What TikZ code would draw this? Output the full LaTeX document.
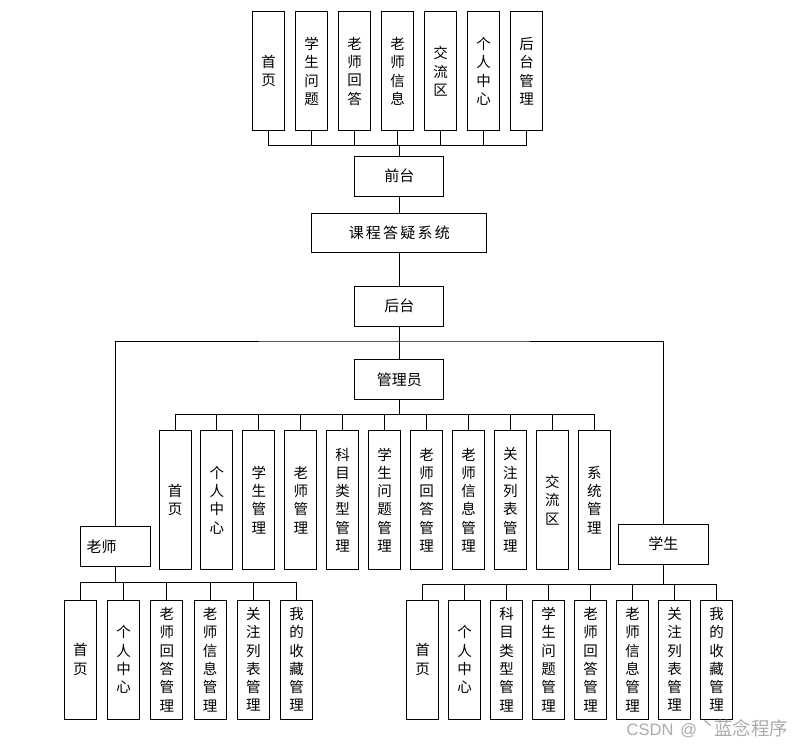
\documentclass[tikz,border=0pt]{standalone}
\usepackage{fontspec}
\newfontfamily\cjk{Noto Sans CJK SC}
\newfontfamily\lsans{Liberation Sans}
\tikzset{
  box/.style={draw=black, line width=0.9pt, inner sep=0pt, align=center,
    font=\cjk\fontsize{14.5}{18.3}\selectfont},
  vbox/.style={box, minimum width=32, minimum height=119},
  tallbox/.style={box, minimum width=32, minimum height=139},
  hbox/.style={box, minimum width=89, minimum height=40,
    font=\cjk\fontsize{15}{18}\selectfont},
  link/.style={line width=0.9pt, draw=black}
}
\newcommand\gp{\hspace{2.2pt}}
\begin{document}
\begin{tikzpicture}[x=1pt,y=-1pt]
\useasboundingbox[fill=white] (0,0) rectangle (807,748);
% top row (front end)
\foreach \t [count=\i] in {首\\页, 学\\生\\问\\题, 老\\师\\回\\答, 老\\师\\信\\息, 交\\流\\区, 个\\人\\中\\心, 后\\台\\管\\理}
  \node[vbox] (f\i) at ({268.7+43*(\i-1)},71.3) {\t};
\node[hbox] (qt) at (399.3,176) {前台};
\node[hbox, minimum width=175, minimum height=39] (sys) at (399.3,233) {课\gp 程\gp 答\gp 疑\gp 系\gp 统};
\node[hbox] (ht) at (399.3,306) {后台};
\node[hbox] (gly) at (399.3,379.3) {管理员};
\node[hbox, minimum width=70, text width=58, align=left, inner xsep=6] (ls) at (115.5,546.7) {老师};
\node[hbox, minimum width=90] (xs) at (663.3,544.2) {学生};
% admin children
\foreach \t [count=\i] in {首\\页, 个\\人\\中\\心, 学\\生\\管\\理, 老\\师\\管\\理, 科\\目\\类\\型\\管\\理, 学\\生\\问\\题\\管\\理, 老\\师\\回\\答\\管\\理, 老\\师\\信\\息\\管\\理, 关\\注\\列\\表\\管\\理, 交\\流\\区, 系\\统\\管\\理}
  \node[tallbox] (a\i) at ({175+41.93*(\i-1)},500) {\t};
% teacher children
\foreach \t [count=\i] in {首\\页, 个\\人\\中\\心, 老\\师\\回\\答\\管\\理, 老\\师\\信\\息\\管\\理, 关\\注\\列\\表\\管\\理, 我\\的\\收\\藏\\管\\理}
  \node[vbox] (t\i) at ({80.3+43.28*(\i-1)},659.5) {\t};
% student children
\foreach \t [count=\i] in {首\\页, 个\\人\\中\\心, 科\\目\\类\\型\\管\\理, 学\\生\\问\\题\\管\\理, 老\\师\\回\\答\\管\\理, 老\\师\\信\\息\\管\\理, 关\\注\\列\\表\\管\\理, 我\\的\\收\\藏\\管\\理}
  \node[vbox] (s\i) at ({422.7+42*(\i-1)},659.5) {\t};
% connectors
\foreach \i in {1,...,7}
  \draw[link] (qt.north) -- ++(0,-10) -| (f\i.south);
\draw[link] (qt.south) -- (sys.north);
\draw[link] (sys.south) -- (ht.north);
\draw[link] (ht.south) -- (gly.north);
\coordinate (split) at (399.3,341);
\draw[link] (ls.north) |- (split) -| (xs.north);
\foreach \i in {1,...,11}
  \draw[link] (gly.south) -- ++(0,15) -| (a\i.north);
\foreach \i in {1,...,6}
  \draw[link] (ls.south) -- ++(0,15) -| (t\i.north);
\foreach \i in {1,...,8}
  \draw[link] (xs.south) -- ++(0,20) -| (s\i.north);
% watermark
\node[anchor=base west, text=black!33, inner sep=0pt] (wm) at (626.5,735.5)
  {\lsans\fontsize{16.5}{18}\selectfont CSDN\hspace{7pt}@\hspace{5pt}\cjk\fontsize{18.5}{20}\selectfont ˋ\hspace{1pt}蓝念程序};
\end{tikzpicture}
\end{document}
